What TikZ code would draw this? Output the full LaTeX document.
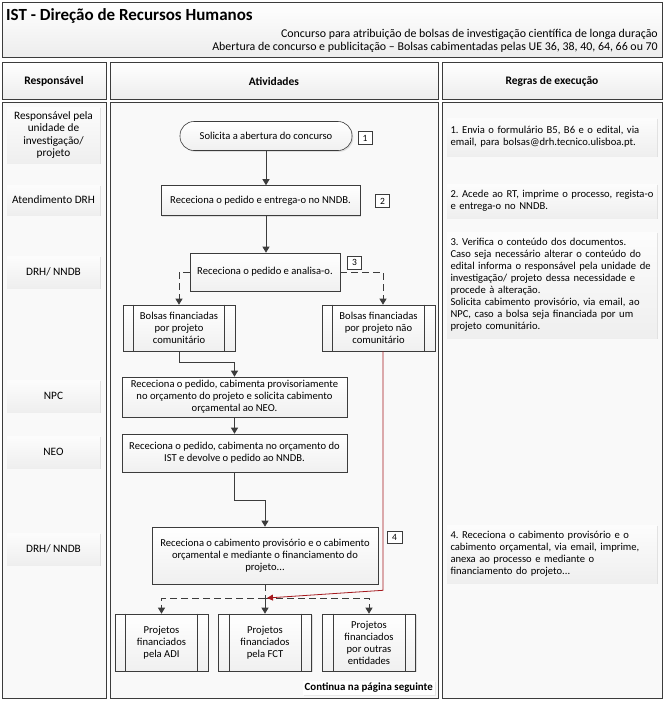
\documentclass[tikz,border=0pt]{standalone}
\usepackage{fontspec}
\setmainfont{Carlito}
\usetikzlibrary{shadows,arrows.meta}
\definecolor{redline}{RGB}{165,25,30}
\definecolor{linec}{RGB}{60,60,60}
\newcommand{\myf}{\fontsize{10.6}{12}\selectfont}
\newcommand{\labf}{\fontsize{11.3}{12.3}\selectfont}
\newcommand{\tagf}{\fontsize{9.5}{10}\selectfont}
\frenchspacing
\begin{document}
\begin{tikzpicture}[x=1pt,y=-1pt,
  hdr/.style={draw=linec, line width=0.9pt, top color=white, bottom color=gray!14},
  panel/.style={draw=linec, line width=0.9pt, fill=gray!5},
  shad/.style={drop shadow={shadow xshift=1.3pt, shadow yshift=-1.3pt, fill=black!22}},
  proc/.style={draw=linec, line width=0.6pt, top color=white, bottom color=gray!12, shad, align=center, font=\myf, inner sep=2pt},
  term/.style={proc, rounded corners=14pt},
  lab/.style={top color=gray!2, bottom color=gray!13, shad, align=center, font=\labf, minimum width=93pt, inner sep=2pt},
  rule/.style={top color=gray!2, bottom color=gray!13, shad, align=left, font=\myf, text width=203pt, inner xsep=3.5pt},
  tagbox/.style={draw=linec, line width=0.6pt, fill=white, font=\tagf, minimum width=14pt, minimum height=13pt, inner sep=0pt, drop shadow={shadow xshift=0.8pt, shadow yshift=-0.8pt, fill=black!20}},
  arr/.style={draw=linec, line width=0.9pt, -{Triangle[length=6pt,width=7pt]}},
  darr/.style={arr, dash pattern=on 7pt off 4pt},
  dln/.style={draw=linec, line width=0.9pt, dash pattern=on 7pt off 4pt},
  redarr/.style={draw=redline, line width=0.8pt, -{Triangle[length=6pt,width=6pt]}}
]
\useasboundingbox (0,0) rectangle (665,702);
\fill[white] (0,0) rectangle (665,702);

% title
\draw[hdr] (2,2) rectangle (662,57);
\node[anchor=west, font=\fontsize{17}{20}\selectfont\bfseries, inner sep=0pt] (title) at (6,16) {IST - Direção de Recursos Humanos};
\node[anchor=east, font=\fontsize{11.9}{13}\selectfont, inner sep=0pt] (sub1) at (658,34) {Concurso para atribuição de bolsas de investigação científica de longa duração};
\node[anchor=east, font=\fontsize{11.9}{13}\selectfont, inner sep=0pt] (sub2) at (658,47) {Abertura de concurso e publicitação – Bolsas cabimentadas pelas UE 36, 38, 40, 64, 66 ou 70};

% headers
\draw[hdr] (2,62) rectangle (106,99);
\draw[hdr] (110,62) rectangle (438,99);
\draw[hdr] (442,62) rectangle (662,99);
\node[font=\fontsize{11.5}{13}\selectfont\bfseries] (h1) at (54,81) {Responsável};
\node[font=\fontsize{11.5}{13}\selectfont\bfseries] (h2) at (274,81) {Atividades};
\node[font=\fontsize{11.5}{13}\selectfont\bfseries] (h3) at (552,81) {Regras de execução};

% panels
\draw[panel] (2,102) rectangle (106,698);
\draw[panel] (110,102) rectangle (438,698);
\draw[panel] (442,102) rectangle (662,698);

% left labels
\node[lab, minimum height=56pt] (L1) at (53.5,135) {Responsável pela\\unidade de\\investigação/\\projeto};
\node[lab, minimum height=30pt] (L2) at (53.5,200) {Atendimento DRH};
\node[lab, minimum height=32pt] (L3) at (53.5,272) {DRH/ NNDB};
\node[lab, minimum height=32pt] (L4) at (53.5,396) {NPC};
\node[lab, minimum height=32pt] (L5) at (53.5,452) {NEO};
\node[lab, minimum height=32pt] (L6) at (53.5,549) {DRH/ NNDB};

% right rules
\node[rule, minimum height=38pt] (R1) at (552,137) {1. Envia o formulário B5, B6 e o edital, via\\email, para bolsas@drh.tecnico.ulisboa.pt.};
\node[rule, minimum height=34pt] (R2) at (552,201) {2. Acede ao RT, imprime o processo, regista-o\\e entrega-o no NNDB.};
\node[rule, minimum height=106pt] (R3) at (552,285) {3. Verifica o conteúdo dos documentos.\\Caso seja necessário alterar o conteúdo do\\edital informa o responsável pela unidade de\\investigação/ projeto dessa necessidade e\\procede à alteração.\\Solicita cabimento provisório, via email, ao\\NPC, caso a bolsa seja financiada por um\\projeto comunitário.};
\node[rule, minimum height=58pt] (R4) at (552,554) {4. Receciona o cabimento provisório e o\\cabimento orçamental, via email, imprime,\\anexa ao processo e mediante o\\financiamento do projeto...};

% activities
\node[term, minimum width=172pt, minimum height=29pt] (t1) at (266,136) {Solicita a abertura do concurso};
\node[tagbox] (n1) at (365,138) {1};
\node[proc, minimum width=199pt, minimum height=30pt] (b2) at (260.5,200.5) {Receciona o pedido e entrega-o no NNDB.};
\node[tagbox] (n2) at (382.5,201) {2};
\node[proc, minimum width=150pt, minimum height=38pt] (b3) at (265,272) {Receciona o pedido e analisa-o.};
\node[tagbox] (n3) at (354.5,262.5) {3};

\node[proc, minimum width=112pt, minimum height=46pt] (bc) at (179,328) {Bolsas financiadas\\por projeto\\comunitário};
\draw[linec, line width=0.6pt] ([xshift=11pt]bc.north west) -- ([xshift=11pt]bc.south west);
\draw[linec, line width=0.6pt] ([xshift=-11pt]bc.north east) -- ([xshift=-11pt]bc.south east);
\node[proc, minimum width=113pt, minimum height=46pt] (bn) at (378.5,328) {Bolsas financiadas\\por projeto não\\comunitário};
\draw[linec, line width=0.6pt] ([xshift=11pt]bn.north west) -- ([xshift=11pt]bn.south west);
\draw[linec, line width=0.6pt] ([xshift=-11pt]bn.north east) -- ([xshift=-11pt]bn.south east);

\node[proc, minimum width=225pt, minimum height=40pt] (npc) at (234.5,397) {Receciona o pedido, cabimenta provisoriamente\\no orçamento do projeto e solicita cabimento\\orçamental ao NEO.};
\node[proc, minimum width=225pt, minimum height=38pt] (neo) at (234.5,453) {Receciona o pedido, cabimenta no orçamento do\\IST e devolve o pedido ao NNDB.};
\node[proc, minimum width=226pt, minimum height=57pt] (b4) at (265,555.5) {Receciona o cabimento provisório e o cabimento\\orçamental e mediante o financiamento do\\projeto...};
\node[tagbox, minimum width=15pt, minimum height=12pt] (n4) at (394.5,537.5) {4};

\foreach \nm/\cx/\txt in {p1/161.5/{Projetos\\financiados\\pela ADI}, p2/265/{Projetos\\financiados\\pela FCT}, p3/369/{Projetos\\financiados\\por outras\\entidades}}{
  \node[proc, minimum width=93pt, minimum height=57pt] (\nm) at (\cx,642.5) {\txt};
  \draw[linec, line width=0.6pt] ([xshift=11pt]\nm.north west) -- ([xshift=11pt]\nm.south west);
  \draw[linec, line width=0.6pt] ([xshift=-11pt]\nm.north east) -- ([xshift=-11pt]\nm.south east);
}

\node[anchor=east, font=\fontsize{10.9}{12}\selectfont\bfseries, fill=white, inner sep=2pt, drop shadow={shadow xshift=1pt, shadow yshift=-1pt, fill=black!15}] (cont) at (435,688) {Continua na página seguinte};

% connectors
\coordinate (j) at (265,598);
\coordinate (rb) at ([xshift=4.5pt]bn.south);
\coordinate (rt) at ([xshift=4.5pt]bn.north);
\draw[arr] (t1.south) -- (t1.south |- b2.north);
\draw[arr] (b2.south -| t1.south) -- (t1.south |- b3.north);
\draw[darr] (b3.west) -| (bc.north);
\draw[darr] (b3.east) -| (rt);
\draw[arr] (bc.south) -- ++(0,11) -| (npc.north);
\draw[arr] (npc.south) -- (neo.north);
\draw[arr] (neo.south) -- ++(0,28) -| (b4.north);
\draw[dln] (b4.south) -- (j);
\draw[darr] (j) -| (p1.north);
\draw[darr] (j) -| (p3.north);
\draw[arr] (j) -- (p2.north);
\draw[redarr] (rb) -- ++(0,239) -- ([xshift=2pt]j);
\end{tikzpicture}
\end{document}
